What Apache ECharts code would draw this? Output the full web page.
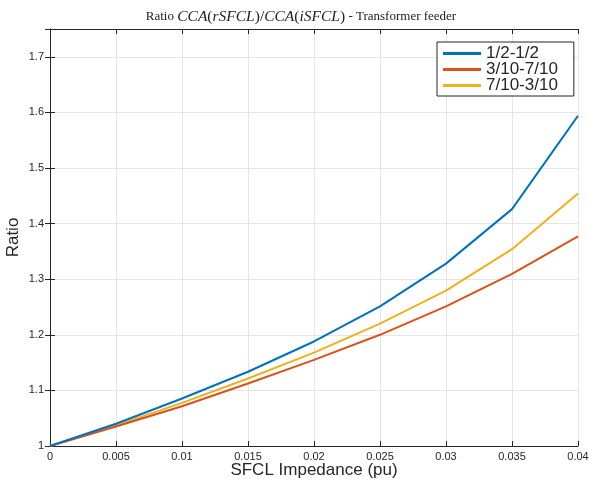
<!DOCTYPE html>
<html>
<head>
<meta charset="utf-8">
<script src="https://cdn.jsdelivr.net/npm/echarts@6/dist/echarts.min.js"></script>
<style>
  html, body { margin: 0; padding: 0; background: #fff; }
  #chart { width: 589px; height: 480px; }
</style>
</head>
<body>
<div id="chart"></div>
<script>
// SFCL impedance (pu) and the ratio for each split
const impedance = [0, 0.005, 0.01, 0.015, 0.02, 0.025, 0.03, 0.035, 0.04];
const ratioHalf = [1, 1.040, 1.0855, 1.1335, 1.188, 1.251, 1.328, 1.426, 1.594];
const ratio3070 = [1, 1.035, 1.0715, 1.1125, 1.155, 1.200, 1.251, 1.3095, 1.377];
const ratio7030 = [1, 1.037, 1.0775, 1.1215, 1.168, 1.220, 1.2795, 1.354, 1.454];
const seriesNames = ['1/2-1/2', '3/10-7/10', '7/10-3/10'];
const colors = ['#0072BD', '#D95319', '#EDB120'];

const chart = echarts.init(document.getElementById('chart'));

const pairs = (ys) => impedance.map((x, i) => [x, ys[i]]);
const axisCol = '#262626';
const sans = 'Liberation Sans';

const mkSeries = (name, ys, i) => ({
    name: name,
    type: 'line',
    data: pairs(ys),
    showSymbol: false,
    symbol: 'none',
    lineStyle: { width: 2, color: colors[i] },
    itemStyle: { color: colors[i] },
    z: 3 - i
});

const option = {
    animation: false,
    backgroundColor: '#fff',
    title: {
        text: 'Ratio {m|CCA}{n|(}{m|rSFCL}{n|)/}{m|CCA}{n|(}{m|iSFCL}{n|)} - Transformer feeder',
        left: 296,
        textAlign: 'center',
        top: 4,
        textStyle: {
            fontFamily: 'Liberation Serif',
            fontSize: 13,
            fontWeight: 'normal',
            color: '#222',
            rich: {
                m: { fontFamily: 'Liberation Serif', fontStyle: 'italic', fontSize: 15.5, color: '#222' },
                n: { fontFamily: 'Liberation Serif', fontSize: 15.5, color: '#222' }
            }
        }
    },
    legend: {
        orient: 'vertical',
        left: 437,
        top: 42,
        data: seriesNames,
        icon: 'rect',
        itemWidth: 38,
        itemHeight: 3,
        itemGap: -1,
        itemTextGap: 8,
        padding: [3, 16, 2, 6],
        borderColor: axisCol,
        borderWidth: 1,
        borderRadius: 0,
        backgroundColor: '#fff',
        textStyle: { fontFamily: sans, fontSize: 17, color: axisCol }
    },
    grid: { left: 50, right: 11, top: 29, bottom: 34, containLabel: false, outerBoundsMode: 'none' },
    xAxis: [
        {
            type: 'value',
            min: 0,
            max: 0.04,
            interval: 0.005,
            name: 'SFCL Impedance (pu)',
            nameLocation: 'middle',
            nameGap: 16,
            nameMoveOverlap: false,
            nameTextStyle: { fontFamily: sans, fontSize: 17, color: axisCol },
            axisLine: { show: true, lineStyle: { color: axisCol, width: 1 } },
            axisTick: { show: true, inside: true, length: 5, lineStyle: { color: axisCol } },
            axisLabel: { fontFamily: sans, fontSize: 11, color: axisCol, margin: 5 },
            splitLine: { show: true, lineStyle: { color: '#e5e5e5', width: 1 } }
        },
        {
            type: 'value',
            position: 'top',
            min: 0,
            max: 0.04,
            interval: 0.005,
            axisLine: { show: true, lineStyle: { color: axisCol, width: 1 } },
            axisTick: { show: true, inside: true, length: 5, lineStyle: { color: axisCol } },
            axisLabel: { show: false },
            splitLine: { show: false }
        }
    ],
    yAxis: [
        {
            type: 'value',
            min: 1,
            max: 1.75,
            interval: 0.1,
            name: 'Ratio',
            nameLocation: 'middle',
            nameGap: 28,
            nameMoveOverlap: false,
            nameRotate: 90,
            nameTextStyle: { fontFamily: sans, fontSize: 17, color: axisCol },
            axisLine: { show: true, lineStyle: { color: axisCol, width: 1 } },
            axisTick: { show: true, inside: true, length: 5, lineStyle: { color: axisCol } },
            axisLabel: { fontFamily: sans, fontSize: 11, color: axisCol, margin: 6, showMaxLabel: false },
            splitLine: { show: true, lineStyle: { color: '#e5e5e5', width: 1 } }
        },
        {
            type: 'value',
            position: 'right',
            min: 1,
            max: 1.75,
            interval: 0.1,
            axisLine: { show: true, lineStyle: { color: axisCol, width: 1 } },
            axisTick: { show: true, inside: true, length: 5, lineStyle: { color: axisCol } },
            axisLabel: { show: false },
            splitLine: { show: false }
        }
    ],
    series: [
        mkSeries(seriesNames[0], ratioHalf, 0),
        mkSeries(seriesNames[1], ratio3070, 1),
        mkSeries(seriesNames[2], ratio7030, 2)
    ]
};

chart.setOption(option);
</script>
</body>
</html>
